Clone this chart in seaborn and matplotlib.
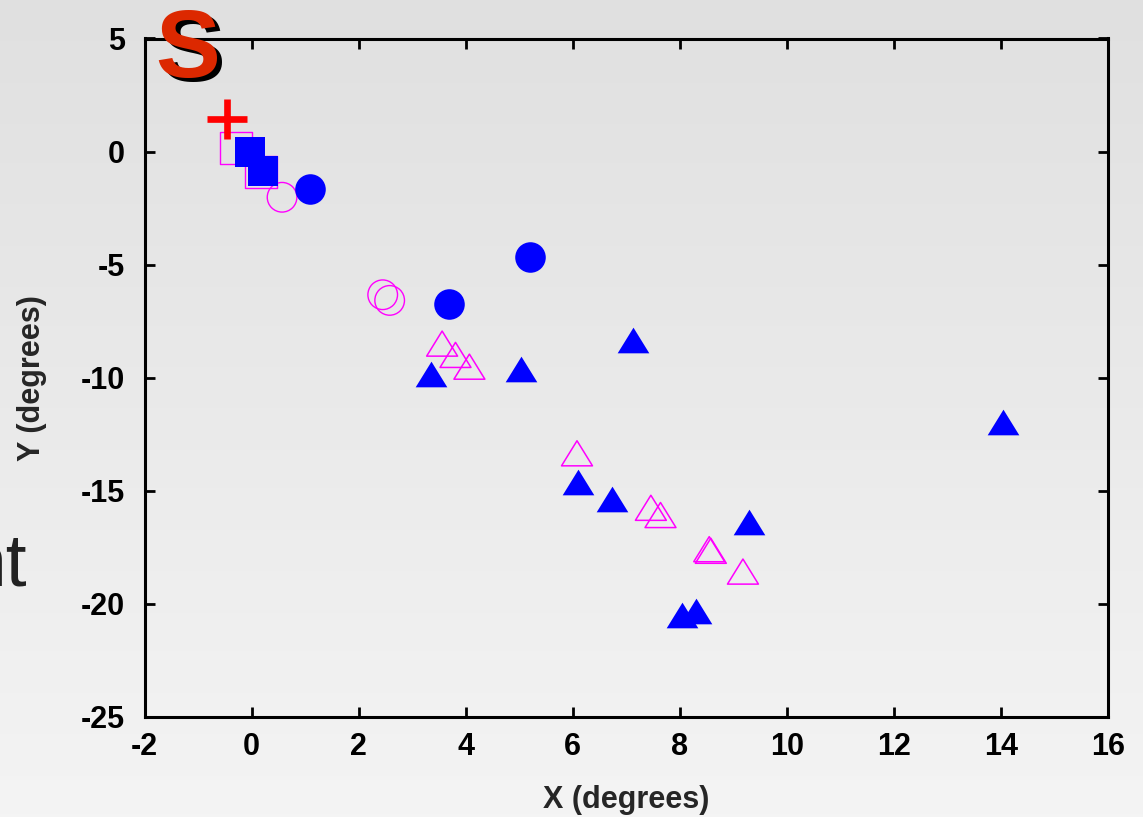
import numpy as np
import pandas as pd
import matplotlib
matplotlib.use("Agg")
import matplotlib.pyplot as plt
import matplotlib.path as mpath
from matplotlib.markers import MarkerStyle
import seaborn as sns

# ---- data (degrees) ----
filled_sq_x = [-0.02, 0.21]
filled_sq_y = [-0.03, -0.87]
open_sq_x = [-0.29, 0.18]
open_sq_y = [0.16, -0.91]
filled_circ_x = [1.09, 3.69, 5.20]
filled_circ_y = [-1.65, -6.76, -4.67]
open_circ_x = [0.57, 2.45, 2.58]
open_circ_y = [-2.02, -6.33, -6.58]
filled_tri_x = [3.36, 5.03, 7.12, 6.10, 6.73, 9.30, 8.05, 8.31, 14.04]
filled_tri_y = [-9.82, -9.63, -8.33, -14.63, -15.34, -16.40, -20.48, -20.30, -11.95]
open_tri_x = [3.56, 3.81, 4.07, 6.08, 7.46, 7.64, 8.55, 8.58, 9.18]
open_tri_y = [-8.49, -8.99, -9.51, -13.34, -15.75, -16.07, -17.58, -17.65, -18.57]
plus_x = [-0.45]
plus_y = [1.45]

x_ticks = [-2, 0, 2, 4, 6, 8, 10, 12, 14, 16]
y_ticks = [-25, -20, -15, -10, -5, 0, 5]

sns.set_theme(style="ticks")
plt.rcParams['font.family'] = ['Liberation Sans', 'DejaVu Sans']

W, H = 1143, 817
fig = plt.figure(figsize=(W / 100, H / 100), dpi=100)

# background gradient
bg = fig.add_axes([0, 0, 1, 1], zorder=0)
grad = np.linspace(0, 1, 256).reshape(-1, 1)
top_c = np.array([224, 224, 224]) / 255
bot_c = np.array([244, 244, 244]) / 255
img = top_c[None, None, :] * (1 - grad[:, :, None]) + bot_c[None, None, :] * grad[:, :, None]
bg.imshow(img, aspect='auto', extent=[0, 1, 0, 1])
bg.set_axis_off()

ax = fig.add_axes([144.5 / W, 1 - 717 / H, (1108 - 144.5) / W, (717 - 38.5) / H], zorder=1)
ax.set_facecolor('none')

BLUE = '#0000FF'
MAG = '#FF00FF'
tri = MarkerStyle(mpath.Path([(-1, -0.81), (1, -0.81), (0, 0.81), (-1, -0.81)], closed=True))

def df(x, y):
    return pd.DataFrame({'x': x, 'y': y})

# open markers
sns.scatterplot(data=df(open_sq_x, open_sq_y), x='x', y='y', ax=ax, marker='s', s=515,
                facecolor='none', edgecolor=MAG, linewidth=1.0, zorder=3)
sns.scatterplot(data=df(open_circ_x, open_circ_y), x='x', y='y', ax=ax, marker='o', s=455,
                facecolor='none', edgecolor=MAG, linewidth=1.0, zorder=3)
sns.scatterplot(data=df(open_tri_x, open_tri_y), x='x', y='y', ax=ax, marker=tri, s=497,
                facecolor='none', edgecolor=MAG, linewidth=1.1, zorder=3)
# filled markers
sns.scatterplot(data=df(filled_sq_x, filled_sq_y), x='x', y='y', ax=ax, marker='s', s=497,
                color=BLUE, edgecolor=BLUE, linewidth=0, zorder=4)
sns.scatterplot(data=df(filled_circ_x, filled_circ_y), x='x', y='y', ax=ax, marker='o', s=484,
                color=BLUE, edgecolor=BLUE, linewidth=0, zorder=4)
sns.scatterplot(data=df(filled_tri_x, filled_tri_y), x='x', y='y', ax=ax, marker=tri, s=520,
                color=BLUE, edgecolor=BLUE, linewidth=0, zorder=4)
# red plus
sns.scatterplot(data=df(plus_x, plus_y), x='x', y='y', ax=ax, marker='+', s=870,
                color='#FF0000', linewidth=4.8, zorder=5)

ax.set_xlim(-2, 16)
ax.set_ylim(-25, 5)
ax.set_xticks(x_ticks)
ax.set_yticks(y_ticks)
ax.set_xticklabels([str(t) for t in x_ticks])
ax.set_yticklabels([str(t) for t in y_ticks])

for sp in ax.spines.values():
    sp.set_visible(True)
    sp.set_linewidth(2.2)
    sp.set_color('black')

ax.tick_params(direction='in', length=7, width=2.0, top=True, right=True,
               labeltop=False, labelright=False, colors='black', labelsize=22)
ax.tick_params(axis='x', pad=11)
ax.tick_params(axis='y', pad=14)
for lab in ax.get_xticklabels() + ax.get_yticklabels():
    lab.set_fontweight('bold')

ax.set_xlabel('X (degrees)', fontsize=22, fontweight='bold', va='center')
ax.set_ylabel('Y (degrees)', fontsize=22, fontweight='bold', va='center')
ax.xaxis.set_label_coords(0.5, (717 - 800) / (717 - 38.5))
ax.yaxis.set_label_coords((32 - 144.5) / (1108 - 144.5), 0.5)

# decorative slide text
fig.text((188 + 4.5) / W, 1 - (77 + 4.5) / H, 'S', fontsize=70, fontweight='bold',
         color='black', ha='center', va='baseline', zorder=10)
fig.text(188 / W, 1 - 77 / H, 'S', fontsize=70, fontweight='bold',
         color='#DC2800', ha='center', va='baseline', zorder=11)
fig.text(27 / W, 1 - 585 / H, 'nt', fontsize=54, color='#222222',
         ha='right', va='baseline', zorder=10)

fig.savefig('out.png', dpi=100)
